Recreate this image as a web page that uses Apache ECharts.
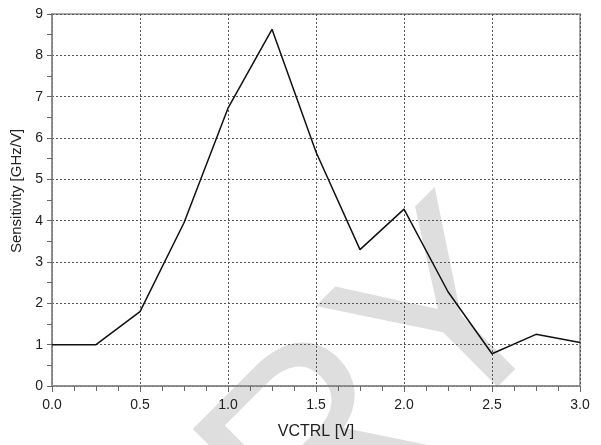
<!DOCTYPE html>
<html>
<head>
<meta charset="utf-8">
<script src="https://cdn.jsdelivr.net/npm/echarts@6/dist/echarts.min.js"></script>
<style>
  html, body { margin: 0; padding: 0; background: #fff; }
  #main { width: 601px; height: 445px; }
</style>
</head>
<body>
<div id="main"></div>
<script>
// sweep points
var vctrl = [0, 0.25, 0.5, 0.75, 1.0, 1.25, 1.5, 1.75, 2.0, 2.25, 2.5, 2.75, 3.0];
var sensitivity = [1.0, 1.0, 1.8, 3.95, 6.72, 8.63, 5.66, 3.3, 4.28, 2.28, 0.78, 1.25, 1.05];

var xName = 'VCTRL [V]';
var yName = 'Sensitivity [GHz/V]';
var watermark = 'PRELIMINARY';

var points = [];
for (var i = 0; i < vctrl.length; i++) {
    points.push([vctrl[i], sensitivity[i]]);
}

var myChart = echarts.init(document.getElementById('main'));

var font = '"Liberation Sans", Arial, Helvetica, sans-serif';
var gridLine = { show: true, lineStyle: { color: '#555', type: [2, 2], width: 1 } };

var option = {
    animation: false,
    backgroundColor: '#fff',
    textStyle: { fontFamily: font },
    grid: {
        left: 52, right: 21, top: 14, bottom: 57,
        show: true,
        borderColor: '#8a8a8a',
        borderWidth: 1.5
    },
    graphic: [{
        type: 'text',
        x: 613,
        y: 357,
        rotation: Math.PI / 4,
        z: -1,
        silent: true,
        style: {
            text: watermark,
            fill: '#dedede',
            font: '270px ' + font,
            align: 'right',
            verticalAlign: 'bottom'
        }
    }],
    xAxis: {
        type: 'value',
        min: 0,
        max: 3,
        interval: 0.5,
        name: xName,
        nameLocation: 'middle',
        nameGap: 38,
        nameTextStyle: { fontSize: 16, color: '#222' },
        axisLine: { show: true, lineStyle: { color: '#8a8a8a', width: 1.5 } },
        axisTick: { show: true, inside: false, length: 6, lineStyle: { color: '#666' } },
        minorTick: { show: true, splitNumber: 4, length: 5, lineStyle: { color: '#666' } },
        axisLabel: {
            fontSize: 14, color: '#222', margin: 12,
            formatter: function (v) { return v.toFixed(1); }
        },
        splitLine: gridLine
    },
    yAxis: {
        type: 'value',
        min: 0,
        max: 9,
        interval: 1,
        name: yName,
        nameLocation: 'middle',
        nameGap: 25,
        nameTextStyle: { fontSize: 15, color: '#222', padding: [0, 0, 0, 18] },
        axisLine: { show: true, lineStyle: { color: '#8a8a8a', width: 1.5 } },
        axisTick: { show: true, inside: false, length: 5, lineStyle: { color: '#666' } },
        minorTick: { show: true, splitNumber: 2, length: 5, lineStyle: { color: '#666' } },
        axisLabel: { fontSize: 14, color: '#222', margin: 9 },
        splitLine: gridLine
    },
    series: [{
        type: 'line',
        data: points,
        symbol: 'none',
        z: 5,
        lineStyle: { color: '#111', width: 1.5 }
    }]
};

myChart.setOption(option);
</script>
</body>
</html>
